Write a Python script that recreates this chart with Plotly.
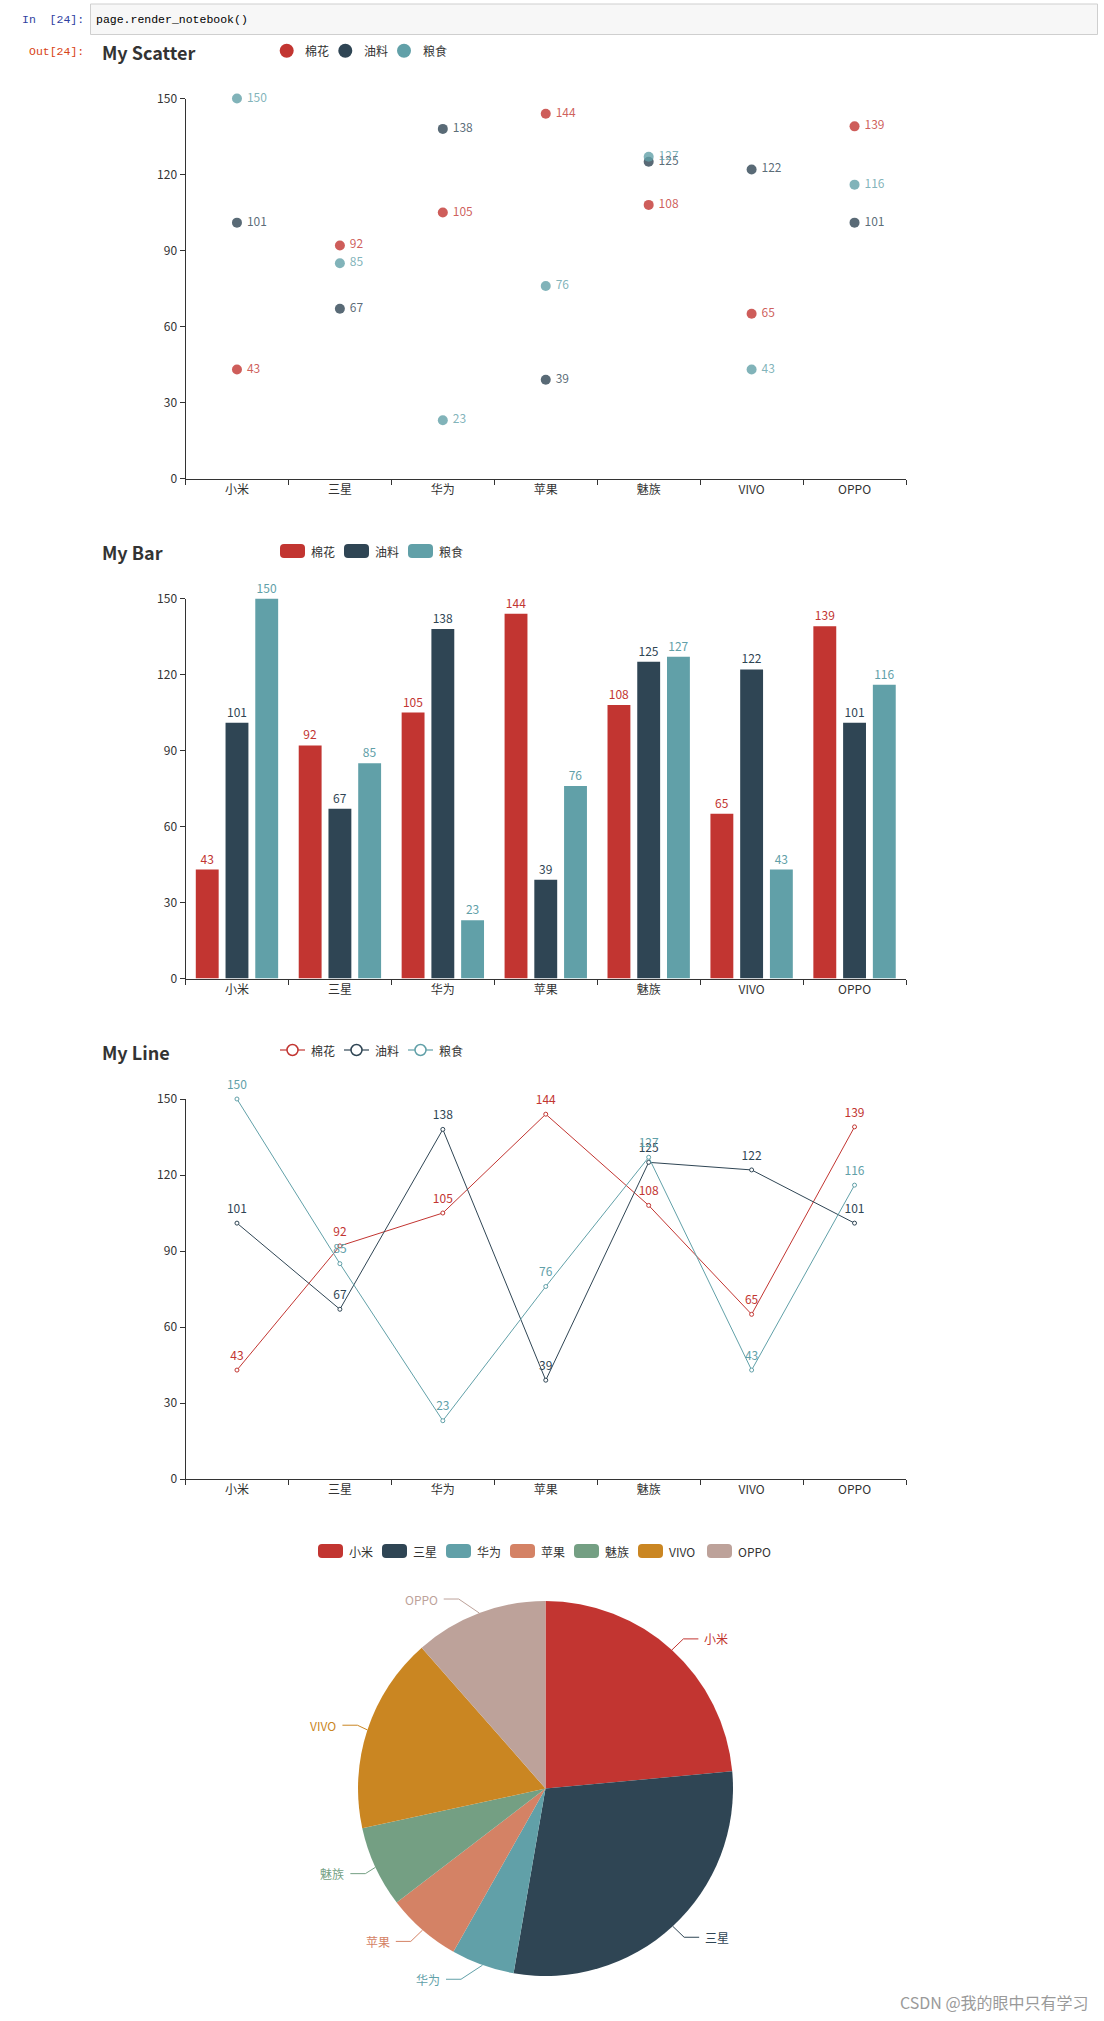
import math
import plotly.graph_objects as go

W, H = 1104, 2021

# ---------------- data ----------------
categories = ["小米", "三星", "华为", "苹果", "魅族", "VIVO", "OPPO"]
series_names = ["棉花", "油料", "粮食"]
cotton = [43, 92, 105, 144, 108, 65, 139]
oil = [101, 67, 138, 39, 125, 122, 101]
grain = [150, 85, 23, 76, 127, 43, 116]
pie_values = [121, 150, 28, 33, 36, 87, 59]
y_ticks = [0, 30, 60, 90, 120, 150]

# ---------------- styles ----------------
colors = ["#c23531", "#2f4554", "#61a0a8", "#d48265", "#749f83", "#ca8622", "#bda29a"]
FONT = "Noto Sans CJK SC, Noto Sans, sans-serif"
MONO = "Liberation Mono, DejaVu Sans Mono, monospace"
AX = "#333"


def px(x):
    return x / W


def py(y):
    return 1 - y / H


def rgba(hexc, a):
    h = hexc.lstrip("#")
    r, g, b = int(h[0:2], 16), int(h[2:4], 16), int(h[4:6], 16)
    return f"rgba({r},{g},{b},{a})"


series = [cotton, oil, grain]

# chart containers (top in px)
tops = [38.5, 538.5, 1039.0]
PL, PR = 185.5, 906.0


def plot_dom(top):
    return [py(top + 440), py(top + 60)]


fig = go.Figure()

# ---------------- scatter ----------------
for name, vals, c in zip(series_names, series, colors):
    fig.add_trace(go.Scatter(
        x=categories, y=vals, name=name, mode="markers+text",
        marker=dict(size=10, color=c, opacity=0.8),
        text=[str(v) for v in vals], texttemplate=" %{text}",
        textposition="middle right",
        textfont=dict(size=12, color=rgba(c, 0.8), family=FONT),
        cliponaxis=False, xaxis="x", yaxis="y", showlegend=False,
    ))

# ---------------- bar ----------------
bw = 0.2223
gap = 0.3 * bw
offsets = [-0.4, -0.4 + bw + gap, -0.4 + 2 * (bw + gap)]
for name, vals, c, off in zip(series_names, series, colors, offsets):
    fig.add_trace(go.Bar(
        x=categories, y=vals, name=name, width=bw, offset=off,
        marker=dict(color=c, line=dict(width=0)),
        text=[str(v) for v in vals], textposition="outside",
        outsidetextfont=dict(size=12, color=c, family=FONT),
        cliponaxis=False, xaxis="x2", yaxis="y2", showlegend=False,
    ))

# ---------------- line ----------------
for name, vals, c in zip(series_names, series, colors):
    fig.add_trace(go.Scatter(
        x=categories, y=vals, name=name, mode="lines+markers",
        line=dict(color=c, width=1),
        marker=dict(size=4, color="white", line=dict(color=c, width=1)),
        cliponaxis=False, xaxis="x3", yaxis="y3", showlegend=False,
    ))
for name, vals, c in zip(series_names, series, colors):
    fig.add_trace(go.Scatter(
        x=categories, y=vals, mode="markers+text",
        marker=dict(size=10, opacity=0),
        text=[str(v) for v in vals], textposition="top center",
        textfont=dict(size=12, color=c, family=FONT),
        cliponaxis=False, xaxis="x3", yaxis="y3", showlegend=False,
        hoverinfo="skip",
    ))

# ---------------- pie ----------------
cx, cy, R = 545.5, 1788.5, 187.5
fig.add_trace(go.Pie(
    labels=categories, values=pie_values, sort=False, direction="clockwise",
    rotation=0, textinfo="none", showlegend=False, automargin=False,
    marker=dict(colors=colors, line=dict(width=0)),
    domain=dict(x=[px(cx - R), px(cx + R)], y=[py(cy + R), py(cy - R)]),
))

# ---------------- axes ----------------
xcommon = dict(
    type="category", categoryorder="array", categoryarray=categories,
    range=[-0.5, 6.5], tickson="boundaries", ticks="outside", ticklen=5,
    tickwidth=1, tickcolor=AX, showline=True, linecolor=AX, linewidth=1,
    showgrid=False, zeroline=False, automargin=False,
    tickfont=dict(size=12, color=AX, family=FONT), fixedrange=True,
    domain=[px(PL), px(PR)],
)
ycommon = dict(
    range=[0, 150], tickvals=y_ticks, ticks="outside", ticklen=5,
    tickwidth=1, tickcolor=AX, showline=True, linecolor=AX, linewidth=1,
    showgrid=False, zeroline=False, automargin=False,
    tickfont=dict(size=12, color=AX, family=FONT), fixedrange=True,
)

layout = dict(
    width=W, height=H, autosize=False,
    margin=dict(l=0, r=0, t=0, b=0, pad=0, autoexpand=False),
    paper_bgcolor="white", plot_bgcolor="white", barmode="overlay",
    font=dict(family=FONT, color=AX),
    xaxis=dict(xcommon, anchor="y"),
    yaxis=dict(ycommon, anchor="x", domain=plot_dom(tops[0])),
    xaxis2=dict(xcommon, anchor="y2"),
    yaxis2=dict(ycommon, anchor="x2", domain=plot_dom(tops[1])),
    xaxis3=dict(xcommon, anchor="y3"),
    yaxis3=dict(ycommon, anchor="x3", domain=plot_dom(tops[2])),
)
fig.update_layout(**layout)

annotations = []
shapes = []


def text(x, y, s, size=12, color=AX, anchor="left", family=FONT):
    annotations.append(dict(
        x=px(x), y=py(y), xref="paper", yref="paper", text=s, showarrow=False,
        xanchor=anchor, yanchor="middle",
        font=dict(size=size, color=color, family=family), borderpad=0,
    ))


def rrect(x0, y0, x1, y1, r, color):
    pts = [
        f"M{px(x0 + r)},{py(y0)}", f"L{px(x1 - r)},{py(y0)}",
        f"Q{px(x1)},{py(y0)} {px(x1)},{py(y0 + r)}", f"L{px(x1)},{py(y1 - r)}",
        f"Q{px(x1)},{py(y1)} {px(x1 - r)},{py(y1)}", f"L{px(x0 + r)},{py(y1)}",
        f"Q{px(x0)},{py(y1)} {px(x0)},{py(y1 - r)}", f"L{px(x0)},{py(y0 + r)}",
        f"Q{px(x0)},{py(y0)} {px(x0 + r)},{py(y0)}", "Z",
    ]
    shapes.append(dict(type="path", xref="paper", yref="paper", path=" ".join(pts),
                       fillcolor=color, line=dict(width=0), layer="above"))


def circle(x, y, r, fill, line_color=None, lw=0):
    shapes.append(dict(type="circle", xref="paper", yref="paper",
                       x0=px(x - r), x1=px(x + r), y0=py(y + r), y1=py(y - r),
                       fillcolor=fill, line=dict(color=line_color or fill, width=lw),
                       layer="above"))


# ---------------- notebook chrome ----------------
shapes.append(dict(type="rect", xref="paper", yref="paper",
                   x0=px(90.5), x1=px(1097.5), y0=py(34.5), y1=py(4),
                   fillcolor="#f7f7f7", line=dict(color="#cfcfcf", width=1), layer="below"))
text(85, 19.5, "In\u00a0\u00a0[24]:", size=11.5, color="#303F9F", anchor="right", family=MONO)
text(95, 19.5, "page.render_notebook()", size=11.5, color="#000", family=MONO)
text(85, 51, "Out[24]:", size=11.5, color="#D84315", anchor="right", family=MONO)

# ---------------- titles ----------------
titles = ["My Scatter", "My Bar", "My Line"]
for t, top in zip(titles, tops):
    text(100.5, top + 13.3, f"<b>{t}</b>", size=18, color="#333")

# ---------------- legends ----------------
# scatter legend (circles)
sc_cx = [286.7, 345.3, 404.0]
ly = tops[0] + 12.2
for name, c, x in zip(series_names, colors, sc_cx):
    circle(x, ly, 7, c)
    text(x + 17.5, ly, name, size=12, color="#333")

# bar legend (round rects)
leg_x0 = [280.0, 344.0, 408.0]
ly = tops[1] + 12.5
for name, c, x in zip(series_names, colors, leg_x0):
    rrect(x, ly - 7, x + 25, ly + 7, 4, c)
    text(x + 30, ly, name, size=12, color="#333")

# line legend (line + empty circle)
ly = tops[2] + 11.0
for name, c, x in zip(series_names, colors, leg_x0):
    shapes.append(dict(type="line", xref="paper", yref="paper",
                       x0=px(x), x1=px(x + 25), y0=py(ly), y1=py(ly),
                       line=dict(color=c, width=1.2), layer="above"))
    circle(x + 12.5, ly, 5.5, "white", c, 1.5)
    text(x + 30, ly, name, size=12, color="#333")

# pie legend
pie_leg_x0 = [318, 382, 446, 510, 574, 638, 707]
ly = 1551
for name, c, x in zip(categories, colors, pie_leg_x0):
    rrect(x, ly - 7, x + 25, ly + 7, 4, c)
    text(x + 30, ly, name, size=12, color="#333")

# pie labels with leader lines (derived from values)
total = sum(pie_values)
L1, L2 = 15, 15
cum = 0
for name, v, c in zip(categories, pie_values, colors):
    mid = (cum + v / 2) / total * 2 * math.pi
    cum += v
    sx, sy = math.sin(mid), -math.cos(mid)
    ex, ey = cx + R * sx, cy + R * sy
    y2 = cy + (R + L1) * sy
    d = 1 if sx >= 0 else -1
    dy = abs(y2 - cy)
    dx = math.sqrt(max((R + L1 + L2) ** 2 - dy ** 2, 0))
    tx = cx + d * dx
    lx3 = tx - d * 5
    lx2 = lx3 - d * L2
    shapes.append(dict(type="path", xref="paper", yref="paper",
                       path=f"M{px(ex)},{py(ey)} L{px(lx2)},{py(y2)} L{px(lx3)},{py(y2)}",
                       line=dict(color=c, width=1), layer="above"))
    text(tx, y2, name, size=12, color=c, anchor="left" if d > 0 else "right")

# watermark
text(1090, 2002, "CSDN @我的眼中只有学习", size=16, color="#9a9a9a", anchor="right")

fig.update_layout(annotations=annotations, shapes=shapes)

fig.write_html(
    "out.html",
    config={"displayModeBar": False},
    post_script="document.body.style.margin='0';document.body.style.overflow='hidden';",
)
